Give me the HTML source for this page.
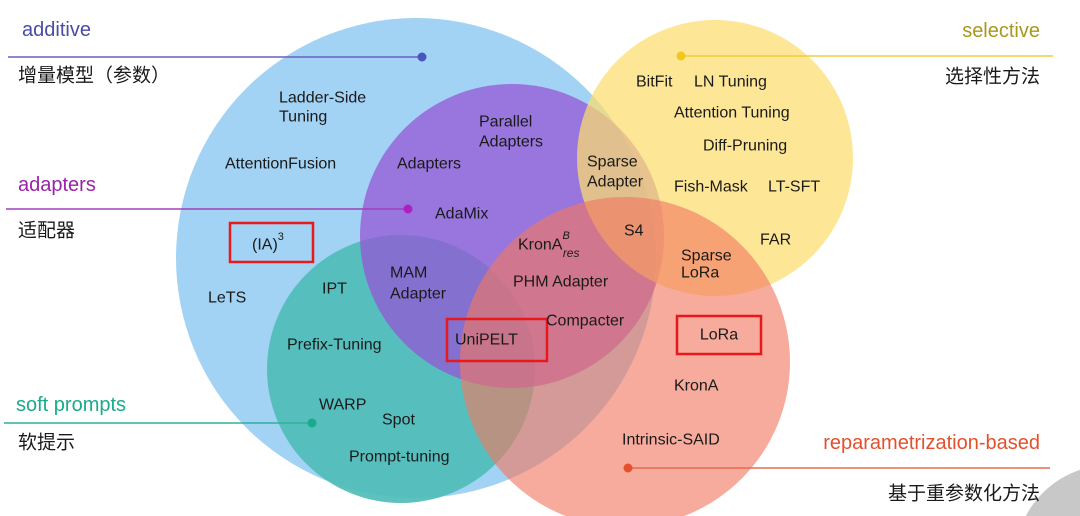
<!DOCTYPE html>
<html><head><meta charset="utf-8"><style>
html,body{margin:0;padding:0;background:#fff;width:1080px;height:516px;overflow:hidden}
svg{display:block}
text{font-family:"Liberation Sans","Noto Sans CJK SC",sans-serif;dominant-baseline:central}
.n{font-size:16px;fill:#1a1a1a}
.cj{font-size:19px;fill:#1a1a1a}
.h{font-size:20px}
</style></head><body>
<svg width="1080" height="516" viewBox="0 0 1080 516">
<circle cx="416" cy="258" r="240" fill="#a2d2f4"/>
<circle cx="401" cy="369" r="134" fill="#4fbdb8" opacity="0.92"/>
<circle cx="512" cy="236" r="152" fill="#9452d6" opacity="0.72"/>
<circle cx="715" cy="158" r="138" fill="#fcdc6e" opacity="0.72"/>
<circle cx="625" cy="362" r="165" fill="#f2775f" opacity="0.62"/>
<circle cx="1110" cy="560" r="95" fill="#c8c8c8"/>
<!-- left labels -->
<text x="22" y="30" class="h" fill="#4a4aa8">additive</text>
<line x1="8" y1="57" x2="422" y2="57" stroke="#6a5fbf" stroke-width="1.5"/>
<circle cx="422" cy="57" r="4.5" fill="#4a55c0"/>
<text x="18" y="76" class="cj">增量模型（参数）</text>
<text x="18" y="185" class="h" fill="#9a22a8">adapters</text>
<line x1="6" y1="209" x2="408" y2="209" stroke="#a040b8" stroke-width="1.5"/>
<circle cx="408" cy="209" r="4.5" fill="#b020c0"/>
<text x="18" y="231" class="cj">适配器</text>
<text x="16" y="405" class="h" fill="#1aaa8c">soft prompts</text>
<line x1="4" y1="423" x2="312" y2="423" stroke="#30b09a" stroke-width="1.5"/>
<circle cx="312" cy="423" r="4.5" fill="#1aaa8c"/>
<text x="18" y="443" class="cj">软提示</text>
<!-- right labels -->
<text x="1040" y="31" class="h" fill="#a8981c" text-anchor="end">selective</text>
<line x1="681" y1="56" x2="1053" y2="56" stroke="#f0cc40" stroke-width="1.5"/>
<circle cx="681" cy="56" r="4.5" fill="#f0c820"/>
<text x="1040" y="77" class="cj" text-anchor="end">选择性方法</text>
<text x="1040" y="443" class="h" fill="#e4502c" text-anchor="end">reparametrization-based</text>
<line x1="628" y1="468" x2="1050" y2="468" stroke="#e86a50" stroke-width="1.5"/>
<circle cx="628" cy="468" r="4.5" fill="#e4502c"/>
<text x="1040" y="494" class="cj" text-anchor="end">基于重参数化方法</text>
<!-- nodes -->
<text x="279" y="98" class="n">Ladder-Side</text>
<text x="279" y="117" class="n">Tuning</text>
<text x="225" y="164" class="n">AttentionFusion</text>
<rect x="230" y="223" width="83" height="39" fill="none" stroke="#e8181c" stroke-width="2.5"/>
<text x="252" y="245" class="n">(IA)<tspan dy="-8" font-size="11">3</tspan></text>
<text x="208" y="298" class="n">LeTS</text>
<text x="322" y="289" class="n">IPT</text>
<text x="390" y="273" class="n">MAM</text>
<text x="390" y="294" class="n">Adapter</text>
<text x="287" y="345" class="n">Prefix-Tuning</text>
<text x="319" y="405" class="n">WARP</text>
<text x="382" y="420" class="n">Spot</text>
<text x="349" y="457" class="n">Prompt-tuning</text>
<text x="397" y="164" class="n">Adapters</text>
<text x="435" y="214" class="n">AdaMix</text>
<text x="479" y="122" class="n">Parallel</text>
<text x="479" y="142" class="n">Adapters</text>
<rect x="447" y="319" width="100" height="42" fill="none" stroke="#e8181c" stroke-width="2.5"/>
<text x="455" y="340" class="n">UniPELT</text>
<text x="518" y="245" class="n">KronA<tspan dy="-9" font-size="11" font-style="italic">B</tspan><tspan dx="-7" dy="17" font-size="12" font-style="italic">res</tspan></text>
<text x="513" y="282" class="n">PHM Adapter</text>
<text x="546" y="321" class="n">Compacter</text>
<text x="587" y="162" class="n">Sparse</text>
<text x="587" y="182" class="n">Adapter</text>
<text x="624" y="231" class="n">S4</text>
<text x="681" y="256" class="n" font-size="14">Sparse</text>
<text x="681" y="273" class="n" font-size="14">LoRa</text>
<text x="636" y="82" class="n">BitFit</text>
<text x="694" y="82" class="n">LN Tuning</text>
<text x="674" y="113" class="n">Attention Tuning</text>
<text x="703" y="146" class="n">Diff-Pruning</text>
<text x="674" y="187" class="n">Fish-Mask</text>
<text x="768" y="187" class="n">LT-SFT</text>
<text x="760" y="240" class="n">FAR</text>
<rect x="677" y="316" width="84" height="38" fill="none" stroke="#e8181c" stroke-width="2.5"/>
<text x="719" y="335" class="n" text-anchor="middle">LoRa</text>
<text x="674" y="386" class="n">KronA</text>
<text x="622" y="440" class="n">Intrinsic-SAID</text>
</svg>
</body></html>
